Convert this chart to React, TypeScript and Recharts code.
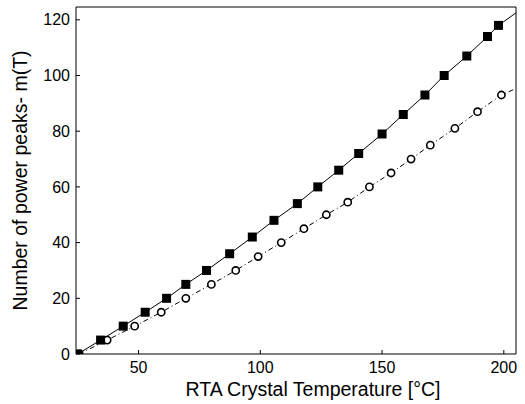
import React from "react";
import { LineChart, Line, XAxis, YAxis, Label } from "recharts";

// temperature (°C) and peak count
const squareT = [25, 34.4, 43.7, 52.7, 61.5, 69.4, 77.9, 87.4, 96.7, 105.6, 115.2, 123.6, 132.2, 140.4, 150, 158.7, 167.6, 175.5, 184.8, 193.3, 197.8];
const squareM = [0, 5, 10, 15, 20, 25, 30, 36, 42, 48, 54, 60, 66, 72, 79, 86, 93, 100, 107, 114, 118];

const circleT = [25.6, 37.1, 48.4, 59.3, 69.4, 79.9, 89.9, 99.1, 108.6, 117.9, 127.1, 135.9, 144.8, 153.7, 161.9, 169.8, 179.9, 189.2, 199];
const circleM = [0, 5, 10, 15, 20, 25, 30, 35, 40, 45, 50, 54.5, 60, 65, 70, 75, 81, 87, 93];

// where the fitted lines leave the plot on the right
const squareLineEnd = { x: 205, y: 122.5 };
const circleLineEnd = { x: 205, y: 95.3 };

const xTicks = [50, 100, 150, 200];
const yTicks = [0, 20, 40, 60, 80, 100, 120];

const squares = squareT.map((x, i) => ({ x, y: squareM[i] }));
const circles = circleT.map((x, i) => ({ x, y: circleM[i] }));
const squareLine = [...squares, squareLineEnd];
const circleLine = [...circles, circleLineEnd];

const font = "'Liberation Sans', Arial, sans-serif";

const SquareDot = (props: any) => {
  const { cx, cy, index } = props;
  if (cx == null || cy == null) return <g key={index} />;
  return <rect key={index} x={cx - 4.5} y={cy - 4.5} width={9} height={9} fill="#000" />;
};

const CircleDot = (props: any) => {
  const { cx, cy, index } = props;
  if (cx == null || cy == null) return <g key={index} />;
  return <circle key={index} cx={cx} cy={cy} r={3.6} fill="#fff" stroke="#000" strokeWidth={1.6} />;
};

export default function App() {
  return (
    <div style={{ position: "absolute", left: 0, top: 0, width: 525, height: 404, background: "#fff" }}>
      <LineChart width={525} height={404} margin={{ top: 6, right: 8, left: 0, bottom: 0 }}>
        <XAxis
          dataKey="x"
          type="number"
          domain={[24.3, 205]}
          ticks={xTicks}
          allowDataOverflow
          height={50}
          stroke="#000"
          tickSize={-4}
          tickMargin={12}
          tick={{ fill: "#000", fontSize: 16, fontFamily: font }}
        >
          <Label
            value="RTA Crystal Temperature [°C]"
            position="insideBottom"
            offset={8}
            dx={17}
            style={{ fill: "#000", fontSize: 19.5, fontFamily: font }}
          />
        </XAxis>
        <XAxis
          xAxisId="top"
          dataKey="x"
          type="number"
          orientation="top"
          domain={[24.3, 205]}
          ticks={xTicks}
          allowDataOverflow
          height={1}
          stroke="#000"
          tickSize={-4}
          tick={false}
        />
        <YAxis
          type="number"
          domain={[0, 124.6]}
          ticks={yTicks}
          allowDataOverflow
          width={76}
          stroke="#000"
          tickSize={-4}
          tickMargin={10}
          tick={{ fill: "#000", fontSize: 16, fontFamily: font }}
        >
          <Label
            value="Number of power peaks- m(T)"
            angle={-90}
            position="insideLeft"
            offset={20}
            style={{ textAnchor: "middle", fill: "#000", fontSize: 19.5, fontFamily: font }}
          />
        </YAxis>
        <YAxis
          yAxisId="right"
          type="number"
          orientation="right"
          domain={[0, 124.6]}
          ticks={yTicks}
          width={1}
          stroke="#000"
          tickSize={-4}
          tick={false}
        />
        <Line data={squareLine} dataKey="y" stroke="#000" strokeWidth={1} dot={false} isAnimationActive={false} />
        <Line
          data={circleLine}
          dataKey="y"
          stroke="#000"
          strokeWidth={1}
          strokeDasharray="5 3 1 3"
          dot={false}
          isAnimationActive={false}
        />
        <Line data={circles} dataKey="y" stroke="none" dot={CircleDot} isAnimationActive={false} />
        <Line data={squares} dataKey="y" stroke="none" dot={SquareDot} isAnimationActive={false} />
      </LineChart>
    </div>
  );
}
